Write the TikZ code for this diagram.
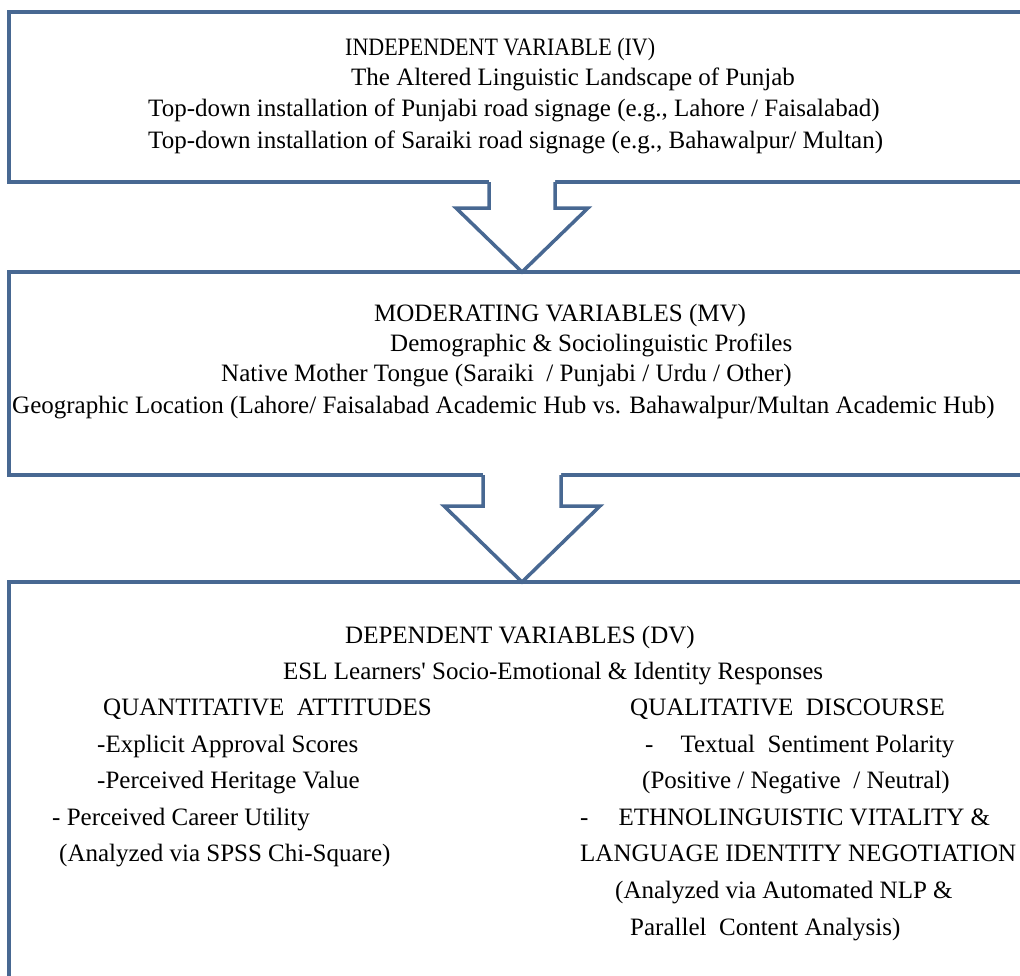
\documentclass[tikz,border=0pt]{standalone}
\usepackage{fontspec}
\setmainfont{Liberation Serif}
\usetikzlibrary{positioning}

\definecolor{frameblue}{RGB}{72,104,146}

\begin{document}
\begin{tikzpicture}[
    x=1pt, y=-1pt,
    font=\fontsize{25}{30}\selectfont,
    panel/.style={draw=frameblue, line width=3.5pt, fill=white, anchor=north west, inner sep=0pt, outer sep=0pt, minimum width=1026pt},
    line/.style={anchor=base west, inner sep=0pt},
    blockarrow/.style={draw=frameblue, line width=3.5pt, line join=miter}
]
\clip (0,0) rectangle (1020,975);

% the three panels
\node[panel, minimum height=170pt] (iv) at (9,12) {};
\node[panel, minimum height=203pt] (mv) at (9,272) {};
\node[panel, minimum height=450pt] (dv) at (9,582) {};

% arrow IV -> MV
\fill[white] ([xshift=-33pt]iv.south) ++(0,-2.5) -- ++(0,28.5) -- ++(-33,0) -- (mv.north) -- ++(66,-64) -- ++(-33,0) -- ++(0,-28.5) -- cycle;
\draw[blockarrow] ([xshift=-33pt]iv.south) -- ++(0,26) -- ++(-33,0) -- (mv.north) -- ++(66,-64) -- ++(-33,0) -- ++(0,-26);

% arrow MV -> DV
\fill[white] ([xshift=-39pt]mv.south) ++(0,-2.5) -- ++(0,33.5) -- ++(-39,0) -- (dv.north) -- ++(78,-76) -- ++(-39,0) -- ++(0,-33.5) -- cycle;
\draw[blockarrow] ([xshift=-39pt]mv.south) -- ++(0,31) -- ++(-39,0) -- (dv.north) -- ++(78,-76) -- ++(-39,0) -- ++(0,-31);

% independent variable
\node[line] (ivtitle) at (345,55) {\scalebox{0.88}[1]{INDEPENDENT VARIABLE (IV)}};
\node[line] (ivsub) at (351,85) {The Altered Linguistic Landscape of Punjab};
\node[line] (ivpunjabi) at (148,116) {Top-down installation of Punjabi road signage (e.g., Lahore / Faisalabad)};
\node[line] (ivsaraiki) at (148,148) {Top-down installation of Saraiki road signage (e.g., Bahawalpur/ Multan)};

% moderating variables
\node[line] (mvtitle) at (374,321) {MODERATING VARIABLES (MV)};
\node[line] (mvsub) at (390,351) {Demographic \& Sociolinguistic Profiles};
\node[line] (mvtongue) at (221,381) {Native Mother Tongue (Saraiki \ / Punjabi / Urdu / Other)};
\node[line] (mvplace) at (12,413) {Geographic Location (Lahore/ Faisalabad Academic Hub vs. Bahawalpur/Multan Academic Hub)};

% dependent variables
\node[line] (dvtitle) at (345,643) {DEPENDENT VARIABLES (DV)};
\node[line] (dvsub) at (283,679) {ESL Learners\textquotesingle{} Socio-Emotional \& Identity Responses};

\node[line] (quanthead) at (103,715) {QUANTITATIVE \ ATTITUDES};
\node[line] (quanta) at (97,752) {-Explicit Approval Scores};
\node[line] (quantb) at (97,788) {-Perceived Heritage Value};
\node[line] (quantc) at (52,825) {- Perceived Career Utility};
\node[line] (quantd) at (59,861) {(Analyzed via SPSS Chi-Square)};

\node[line] (qualhead) at (630,715) {QUALITATIVE \ DISCOURSE};
\node[line] (quala) at (645,752) {-\hspace{27pt}Textual \ Sentiment Polarity};
\node[line] (qualb) at (642,788) {(Positive / Negative \ / Neutral)};
\node[line] (qualc) at (580,825) {-\hspace{30pt}ETHNOLINGUISTIC VITALITY \&};
\node[line] (quald) at (580,861) {LANGUAGE IDENTITY NEGOTIATION};
\node[line] (quale) at (615,898) {(Analyzed via Automated NLP \&};
\node[line] (qualf) at (630,935) {Parallel \ Content Analysis)};
\end{tikzpicture}
\end{document}
